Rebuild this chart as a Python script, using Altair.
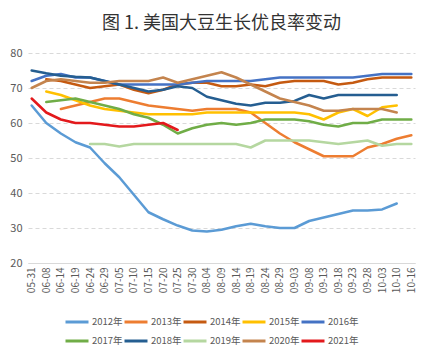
import altair as alt
import pandas as pd

N = None
dates = ["05-31","06-08","06-14","06-19","06-24","06-29","07-05","07-10","07-15","07-20",
         "07-25","07-30","08-04","08-09","08-14","08-19","08-24","08-29","09-03","09-08",
         "09-13","09-18","09-23","09-28","10-03","10-10","10-16"]

y2012 = [65,60,57,54.5,53,48.5,44.5,39.5,34.5,32.5,30.7,29.3,29,29.5,30.5,31.2,30.5,30,30,32,33,34,35,35,35.3,37,N]
y2013 = [N,N,64,65,66,67,67,66,65,64.5,64,63.5,64,64,64,63,60,57,54.5,52.5,50.5,50.5,50.5,53,54,55.5,56.5]
y2014 = [N,72.5,72,71,70,70.5,71,69.5,68.5,69.5,71,71.5,71.5,70.5,70.5,71,70.5,71.5,72,72,72,71,71.5,72.5,73,73,73]
y2015 = [N,69,68,66.5,65,64,63.5,63,62.5,62.5,62.5,62.5,63,63,63,63,63,63,63,62.5,61,63,64,62,64.5,65,N]
y2016 = [72,73.5,74,73,73,72,71,71,71,71,71,71.5,72,72,72,72,72.5,73,73,73,73,73,73,73.5,74,74,74]
y2017 = [N,66,66.5,67,66,65,64,62.5,61.5,59.5,57,58.5,59.5,60,59.5,60,61,61,61,60.5,59.5,59,60,60,61,61,61]
y2018 = [75,74.2,73.5,73.2,73,72,71,70,69,69.5,70.5,70,67.5,66.5,65.5,65,65.8,65.8,66.3,68,67,68,68,68,68,68,N]
y2019 = [N,N,N,N,54,54,53.3,54,54,54,54,54,54,54,54,53,55,55,55,55,54.5,54,54.5,55,53.5,54,54]
y2020 = [70,72,72.5,72,71.5,71.5,72,72,72,73,71.5,72.5,73.5,74.5,73,71,69,67,66,65,63.5,63.5,64,64,64,63,N]
y2021 = [67,63,61,60,60,59.5,59,59,59.5,60,58,N,N,N,N,N,N,N,N,N,N,N,N,N,N,N,N]

years = ["2012年","2013年","2014年","2015年","2016年","2017年","2018年","2019年","2020年","2021年"]
colors = ["#5B9BD5","#ED7D31","#C55A11","#FFC000","#4472C4","#70AD47","#255E91","#B5D7A0","#C4844E","#E3191C"]
series = [y2012,y2013,y2014,y2015,y2016,y2017,y2018,y2019,y2020,y2021]

rows = []
for yr, vals in zip(years, series):
    for d, v in zip(dates, vals):
        if v is not None:
            rows.append({"date": d, "year": yr, "value": v})
df = pd.DataFrame(rows)

FONT = "Noto Sans CJK SC"

chart = alt.Chart(df).mark_line(strokeWidth=2.5, strokeCap="round", strokeJoin="round").encode(
    x=alt.X("date:O", sort=dates, scale=alt.Scale(type="point", padding=0.25),
            axis=alt.Axis(title=None, labelAngle=270, labelFontSize=10, labelColor="#595959",
                          labelFont=FONT, ticks=False, domainColor="#D9D9D9", labelPadding=4,
                          labelAlign="right", labelBaseline="middle")),
    y=alt.Y("value:Q", scale=alt.Scale(domain=[20, 80], nice=False, zero=False),
            axis=alt.Axis(title=None, values=[20,30,40,50,60,70,80], labelFontSize=11,
                          labelColor="#595959", labelFont=FONT, ticks=False, domain=False,
                          gridDash=[4, 3], gridColor="#D9D9D9", labelPadding=6)),
    color=alt.Color("year:N", sort=years, scale=alt.Scale(domain=years, range=colors),
                    legend=alt.Legend(title=None, orient="none", legendX=36, legendY=256,
                                      direction="horizontal", columns=5,
                                      symbolType="stroke", symbolSize=529,
                                      symbolStrokeWidth=3, labelFontSize=9.5, labelFont=FONT,
                                      labelColor="#595959", columnPadding=-8, rowPadding=-6,
                                      labelOffset=2)),
    order=alt.Order("year:N"),
).properties(
    width=387, height=210,
    padding={"left": 20, "top": 45, "right": 4, "bottom": 87},
    autosize=alt.AutoSizeParams(type="none"),
    title=alt.TitleParams("图 1. 美国大豆生长优良率变动", font=FONT, fontSize=18,
                          fontWeight="normal", color="#333333", anchor="middle", offset=14),
).configure_view(stroke=None)

chart.save("out.html", embed_options={"renderer": "svg", "actions": False})
